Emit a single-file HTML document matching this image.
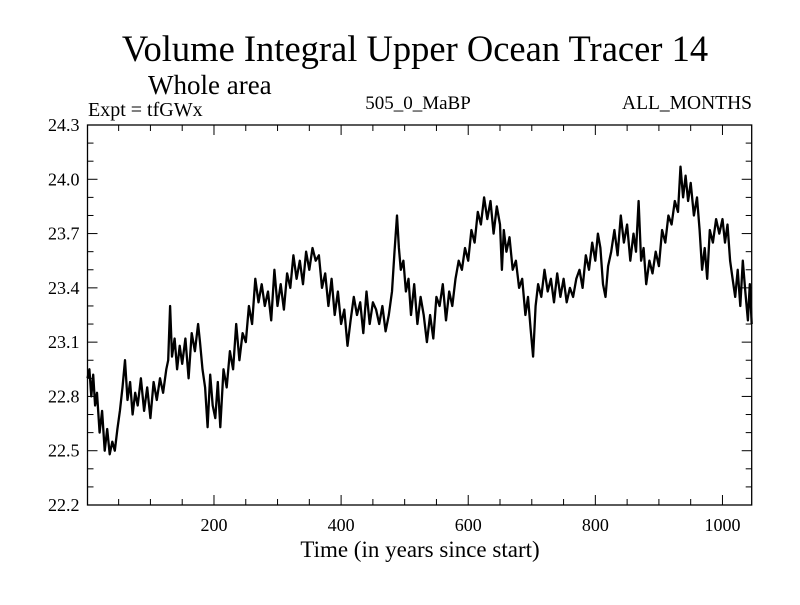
<!DOCTYPE html>
<html><head><meta charset="utf-8"><style>
body{margin:0;background:#fff;}
svg text{font-family:"Liberation Serif",serif;fill:#000;}
</style></head><body>
<svg id="chart" width="800" height="600" viewBox="0 0 800 600" xmlns="http://www.w3.org/2000/svg">
<text x="415" y="61" font-size="36.5" text-anchor="middle">Volume Integral Upper Ocean Tracer 14</text>
<text x="148" y="94" font-size="27">Whole area</text>
<text x="88" y="116" font-size="20">Expt = tfGWx</text>
<text x="418" y="109" font-size="19" text-anchor="middle">505_0_MaBP</text>
<text x="752" y="109" font-size="19.5" text-anchor="end">ALL_MONTHS</text>
<text x="420" y="557" font-size="23" text-anchor="middle">Time (in years since start)</text>
<g id="axes"></g>
<g id="series"></g>
</svg>
<script>
const years=[1,4,7,10,13,16,20,24,28,32,36,40,44,48,52,56,60,64,68,72,76,80,85,90,95,100,105,110,115,120,125,128,131,134,138,142,146,150,155,160,165,170,175,178,182,186,190,194,198,202,206,210,215,220,225,230,235,240,245,250,255,260,265,270,275,280,285,290,295,300,305,310,315,320,325,330,335,340,345,350,355,360,365,370,375,380,385,390,395,400,405,410,415,420,425,430,435,440,445,450,455,460,465,470,475,480,484,488,491,494,498,502,506,510,515,520,525,530,535,540,545,550,555,560,565,570,575,580,585,590,595,600,605,610,615,620,625,630,635,640,645,650,653,656,660,665,670,675,680,685,690,694,698,702,706,710,715,720,725,730,735,740,745,750,755,760,765,770,775,780,785,790,795,800,804,808,812,816,820,825,830,835,840,845,850,855,860,864,868,872,876,880,885,890,895,900,905,910,915,920,925,930,934,938,942,946,950,955,960,964,968,972,976,980,985,990,995,1000,1004,1008,1012,1016,1020,1024,1028,1032,1036,1040,1043,1046];
const values=[22.9,22.95,22.8,22.92,22.75,22.82,22.6,22.72,22.5,22.62,22.48,22.55,22.5,22.62,22.72,22.85,23.0,22.78,22.88,22.7,22.82,22.75,22.9,22.72,22.85,22.68,22.88,22.78,22.9,22.82,22.95,23.0,23.3,23.02,23.12,22.95,23.08,22.98,23.12,22.9,23.15,23.05,23.2,23.1,22.95,22.85,22.63,22.92,22.75,22.68,22.88,22.63,22.95,22.85,23.05,22.95,23.2,23.0,23.15,23.1,23.3,23.2,23.45,23.32,23.42,23.3,23.38,23.22,23.5,23.3,23.42,23.28,23.48,23.4,23.58,23.45,23.55,23.42,23.6,23.5,23.62,23.55,23.58,23.4,23.48,23.3,23.45,23.25,23.38,23.2,23.28,23.08,23.22,23.35,23.25,23.32,23.15,23.38,23.2,23.32,23.28,23.2,23.3,23.16,23.25,23.38,23.6,23.8,23.62,23.5,23.55,23.38,23.45,23.25,23.42,23.2,23.35,23.25,23.1,23.25,23.12,23.35,23.3,23.42,23.22,23.38,23.3,23.45,23.55,23.5,23.62,23.55,23.72,23.65,23.82,23.75,23.9,23.78,23.88,23.7,23.85,23.75,23.5,23.72,23.6,23.68,23.5,23.55,23.4,23.45,23.25,23.35,23.18,23.02,23.3,23.42,23.35,23.5,23.38,23.45,23.32,23.48,23.35,23.45,23.32,23.4,23.35,23.45,23.5,23.4,23.58,23.5,23.65,23.55,23.7,23.62,23.42,23.35,23.52,23.6,23.72,23.58,23.8,23.65,23.75,23.55,23.7,23.6,23.88,23.55,23.62,23.42,23.55,23.48,23.6,23.52,23.72,23.65,23.8,23.75,23.88,23.82,24.07,23.9,24.02,23.88,23.98,23.8,23.9,23.72,23.5,23.62,23.45,23.72,23.65,23.78,23.7,23.78,23.65,23.75,23.55,23.45,23.35,23.5,23.3,23.55,23.38,23.22,23.42,23.2,23.45,23.55,23.7];
const yTicks=[22.2,22.5,22.8,23.1,23.4,23.7,24.0,24.3];
const xTicks=[200,400,600,800,1000];
const X0=87.5,X1=751.7,Y0=125,Y1=505,xmin=1,xmax=1046,ymin=22.2,ymax=24.3;
const sx=v=>X0+(v-xmin)/(xmax-xmin)*(X1-X0);
const sy=v=>Y1-(v-ymin)/(ymax-ymin)*(Y1-Y0);
const NS="http://www.w3.org/2000/svg";
const axes=document.getElementById('axes');
function mk(tag,attrs,parent){const e=document.createElementNS(NS,tag);for(const k in attrs)e.setAttribute(k,attrs[k]);parent.appendChild(e);return e;}
const frame=mk('rect',{x:X0,y:Y0,width:X1-X0,height:Y1-Y0,fill:'none',stroke:'#000','stroke-width':1.3},axes);


for(let v=22.2;v<=24.301;v+=0.1){
  const y=sy(v);const major=Math.abs(((v-22.2)/0.3)-Math.round((v-22.2)/0.3))<0.01;const L=major?10:6;
  const t=mk('line',{x1:X0,x2:X0+L,y1:y,y2:y,stroke:'#000'},axes);
  
  
  const t2=mk('line',{x1:X1,x2:X1-L,y1:y,y2:y,stroke:'#000'},axes);
  
  
}
yTicks.forEach(v=>{const t=mk('text',{x:X0-8,y:sy(v)+6,'font-size':18,'text-anchor':'end'},axes);t.textContent=v.toFixed(1);
  
  });
for(let v=50;v<=1046;v+=50){
  const x=sx(v);const major=v%200===0;const L=major?10:6;
  const t=mk('line',{x1:x,x2:x,y1:Y1,y2:Y1-L,stroke:'#000'},axes);
  
  
  const t2=mk('line',{x1:x,x2:x,y1:Y0,y2:Y0+L,stroke:'#000'},axes);
  
  
}
xTicks.forEach(v=>{const t=mk('text',{x:sx(v),y:Y1+26,'font-size':18,'text-anchor':'middle'},axes);t.textContent=v;
  
  });
const d=years.map((yr,i)=>(i?'L':'M')+sx(yr).toFixed(1)+','+sy(values[i]).toFixed(1)).join('');
const p=mk('path',{d:d,fill:'none',stroke:'#000','stroke-width':2.3,'stroke-linejoin':'round'},document.getElementById('series'));


</script>
</body></html>
